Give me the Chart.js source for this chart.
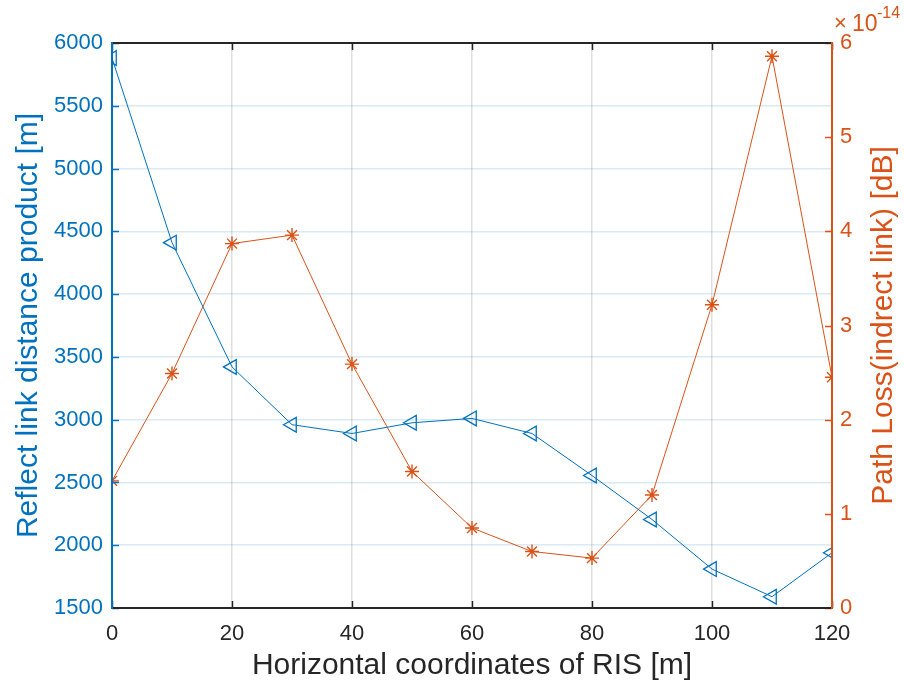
<!DOCTYPE html>
<html>
<head>
<meta charset="utf-8">
<script src="https://cdn.jsdelivr.net/npm/chart.js@4/dist/chart.umd.min.js"></script>
<style>
html,body{margin:0;padding:0;background:#fff;}
#wrap{width:904px;height:689px;position:relative;}
</style>
</head>
<body>
<div id="wrap"><canvas id="c" width="904" height="689"></canvas></div>
<script>
// ---- data ----
const xPositions = [0, 10, 20, 30, 40, 50, 60, 70, 80, 90, 100, 110, 120];
const distanceProduct = [5880, 4410, 3420, 2960, 2890, 2975, 3010, 2890, 2555, 2205, 1810, 1590, 1940];
const pathLoss = [1.35, 2.49, 3.87, 3.96, 2.59, 1.45, 0.85, 0.60, 0.53, 1.20, 3.22, 5.86, 2.45]; // ×10^-14
const pathLossExponent = -14;
const xTicks = [0, 20, 40, 60, 80, 100, 120];
const leftTicks = [1500, 2000, 2500, 3000, 3500, 4000, 4500, 5000, 5500, 6000];
const rightTicks = [0, 1, 2, 3, 4, 5, 6];
const xTitle = 'Horizontal coordinates of RIS [m]';
const leftTitle = 'Reflect link distance product [m]';
const rightTitle = 'Path Loss(indrect link) [dB]';

const BLUE = '#0072BD', ORANGE = '#D95319', DARK = '#262626';
const FONT = "'Liberation Sans', Arial, sans-serif";

const boxPlugin = {
  id: 'boxPlugin',
  afterDraw(chart) {
    const {ctx, chartArea: a, scales} = chart;
    const xs = scales.x, yl = scales.y, yr = scales.y2;
    ctx.save();
    const tl = 7;
    // inward ticks
    ctx.lineWidth = 1.5;
    ctx.strokeStyle = DARK;
    xTicks.forEach(v => {
      const px = Math.round(xs.getPixelForValue(v)) + 0.5;
      ctx.beginPath(); ctx.moveTo(px, a.bottom); ctx.lineTo(px, a.bottom - tl); ctx.stroke();
      ctx.beginPath(); ctx.moveTo(px, a.top); ctx.lineTo(px, a.top + tl); ctx.stroke();
    });
    ctx.strokeStyle = BLUE;
    leftTicks.forEach(v => {
      const py = Math.round(yl.getPixelForValue(v)) + 0.5;
      ctx.beginPath(); ctx.moveTo(a.left, py); ctx.lineTo(a.left + tl, py); ctx.stroke();
    });
    ctx.strokeStyle = ORANGE;
    rightTicks.forEach(v => {
      const py = Math.round(yr.getPixelForValue(v)) + 0.5;
      ctx.beginPath(); ctx.moveTo(a.right, py); ctx.lineTo(a.right - tl, py); ctx.stroke();
    });
    // box
    ctx.lineWidth = 2;
    ctx.strokeStyle = DARK;
    ctx.beginPath(); ctx.moveTo(a.left, a.top); ctx.lineTo(a.right, a.top); ctx.stroke();
    ctx.beginPath(); ctx.moveTo(a.left, a.bottom); ctx.lineTo(a.right, a.bottom); ctx.stroke();
    ctx.strokeStyle = BLUE;
    ctx.beginPath(); ctx.moveTo(a.left, a.top - 1); ctx.lineTo(a.left, a.bottom + 1); ctx.stroke();
    ctx.strokeStyle = ORANGE;
    ctx.beginPath(); ctx.moveTo(a.right, a.top - 1); ctx.lineTo(a.right, a.bottom + 1); ctx.stroke();

    // right title (reads bottom to top)
    ctx.fillStyle = ORANGE;
    ctx.font = "30px " + FONT;
    ctx.textAlign = 'center';
    ctx.textBaseline = 'middle';
    ctx.save();
    ctx.translate(884, (a.top + a.bottom) / 2);
    ctx.rotate(-Math.PI / 2);
    ctx.fillText(rightTitle, 0, 0);
    ctx.restore();

    // exponent label
    ctx.textAlign = 'left';
    ctx.textBaseline = 'alphabetic';
    ctx.font = "22px " + FONT;
    ctx.fillText('\u00d7', a.right + 2, 30);
    ctx.font = "23px " + FONT;
    ctx.fillText('10', a.right + 20, 31);
    ctx.font = "16px " + FONT;
    ctx.fillText(String(pathLossExponent), a.right + 45, 18);
    ctx.restore();
  }
};

const plain = v => String(v);

new Chart(document.getElementById('c'), {
  type: 'line',
  data: {
    datasets: [
      {
        label: 'distance',
        data: xPositions.map((x, i) => ({x, y: distanceProduct[i]})),
        yAxisID: 'y',
        borderColor: BLUE,
        backgroundColor: 'rgba(0,0,0,0)',
        borderWidth: 1,
        pointStyle: 'triangle',
        rotation: -90,
        pointRadius: 8.5,
        pointBorderWidth: 1.3,
        pointBorderColor: BLUE,
        pointBackgroundColor: 'rgba(0,0,0,0)',
        tension: 0
      },
      {
        label: 'pathloss',
        data: xPositions.map((x, i) => ({x, y: pathLoss[i]})),
        yAxisID: 'y2',
        borderColor: ORANGE,
        backgroundColor: 'rgba(0,0,0,0)',
        borderWidth: 1,
        pointStyle: 'star',
        pointRadius: 7,
        pointBorderWidth: 1.4,
        pointBorderColor: ORANGE,
        pointBackgroundColor: ORANGE,
        tension: 0
      }
    ]
  },
  options: {
    responsive: false,
    animation: false,
    layout: {padding: {top: 43, left: 0, right: 0, bottom: 0}},
    plugins: {legend: {display: false}, tooltip: {enabled: false}},
    scales: {
      x: {
        type: 'linear', min: 0, max: 120,
        afterBuildTicks: s => { s.ticks = xTicks.map(v => ({value: v})); },
        afterFit: s => { s.height = 81; },
        grid: {color: 'rgba(38,38,38,0.15)', lineWidth: 1.5, drawTicks: false},
        border: {display: false},
        ticks: {color: DARK, font: {family: FONT, size: 22}, padding: 13, maxRotation: 0, callback: plain},
        title: {display: true, text: xTitle, color: DARK, font: {family: FONT, size: 30}, padding: {top: 4, bottom: 5}}
      },
      y: {
        type: 'linear', position: 'left', min: 1500, max: 6000,
        afterBuildTicks: s => { s.ticks = leftTicks.map(v => ({value: v})); },
        afterFit: s => { s.width = 112; },
        grid: {color: 'rgba(0,114,189,0.15)', lineWidth: 1.5, drawTicks: false},
        border: {display: false},
        ticks: {color: BLUE, font: {family: FONT, size: 22}, padding: 9, callback: plain},
        title: {display: true, text: leftTitle, color: BLUE, font: {family: FONT, size: 30}, padding: {top: 11, bottom: 4}}
      },
      y2: {
        type: 'linear', position: 'right', min: 0, max: 6,
        afterBuildTicks: s => { s.ticks = rightTicks.map(v => ({value: v})); },
        afterFit: s => { s.width = 72; },
        grid: {display: false, drawTicks: false},
        border: {display: false},
        ticks: {color: ORANGE, font: {family: FONT, size: 22}, padding: 8, callback: plain}
      }
    }
  },
  plugins: [boxPlugin]
});
</script>
</body>
</html>
